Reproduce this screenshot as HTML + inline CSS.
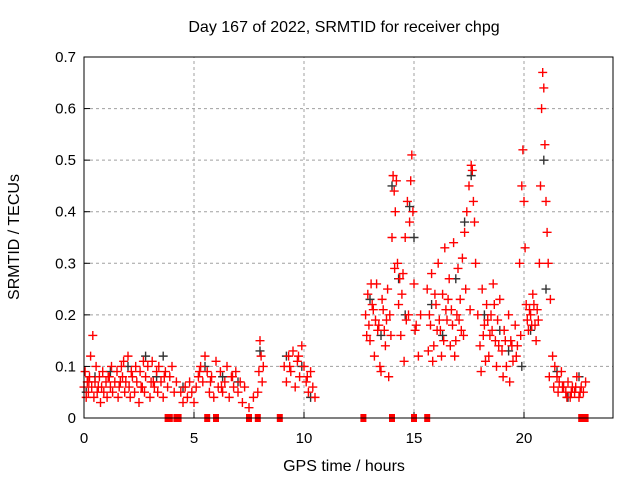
<!DOCTYPE html>
<html><head><meta charset="utf-8"><style>
body{margin:0;background:#fff;width:640px;height:480px;overflow:hidden}
svg text{font-family:"Liberation Sans",sans-serif;font-size:15px;fill:#000}
</style></head><body>
<svg id="chart" width="640" height="480" viewBox="0 0 640 480" xmlns="http://www.w3.org/2000/svg">
<rect width="640" height="480" fill="#fff"/>
<text x="344" y="32" text-anchor="middle" style="font-size:16px">Day 167 of 2022, SRMTID for receiver chpg</text>
<text x="344" y="471" text-anchor="middle" style="font-size:16px">GPS time / hours</text>
<text transform="translate(19,237) rotate(-90)" text-anchor="middle" style="font-size:16px">SRMTID / TECUs</text>
<g id="grid"></g>
<g id="ticks"></g>
<g id="black"></g>
<g id="red"></g>
<g id="zeros"></g>
<rect x="84" y="57" width="529" height="361" fill="none" stroke="#000" stroke-width="1"/>
</svg>
<script>
const xTicks=[0,5,10,15,20];
const yTicks=[0,0.1,0.2,0.3,0.4,0.5,0.6,0.7];
const yTickLabels=["0","0.1","0.2","0.3","0.4","0.5","0.6","0.7"];
const redT=[0,.05,.1,.15,.2,.25,.3,.35,.4,.45,.5,.55,.6,.7,.75,.8,.85,.9,1,1.05,1.1,1.2,1.25,1.3,1.4,1.5,1.55,1.6,1.7,1.75,1.8,1.85,1.9,2,2.05,2.1,2.2,2.3,2.35,2.4,2.5,2.55,2.6,2.7,2.75,2.8,2.9,3,3.05,3.1,3.2,3.3,3.35,3.4,3.5,3.6,3.7,3.8,3.9,4,4.1,4.2,4.4,4.5,4.6,4.7,4.8,4.9,5,5.1,5.2,5.3,5.4,5.5,5.6,5.7,5.8,5.9,6,6.1,6.2,6.3,6.4,6.5,6.6,6.7,6.8,6.9,7,7.1,7.2,7.3,7.5,7.7,7.9,7.95,8,8.05,8.1,8.15,9.1,9.2,9.3,9.4,9.5,9.6,9.7,9.8,9.9,10,10.1,10.2,10.3,10.4,10.5,
12.8,12.85,12.9,13,13.05,13.1,13.2,13.25,13.3,13.4,13.45,13.5,13.6,13.65,13.7,13.8,13.85,13.9,14,14.05,14.1,14.15,14.2,14.25,14.3,14.35,14.4,14.5,14.55,14.6,14.65,14.7,14.8,14.85,14.9,14.95,15,15.1,15.2,15.3,
15.6,15.65,15.7,15.8,15.85,15.9,16,16.05,16.1,16.2,16.25,16.3,16.4,16.45,16.5,16.6,16.65,16.7,16.8,16.85,16.9,17,17.05,17.1,17.2,17.25,17.3,17.4,17.5,17.6,17.65,17.7,17.8,17.9,18,18.05,18.1,18.2,18.25,18.3,18.4,18.45,18.5,18.6,18.7,18.75,18.8,18.9,19,19.05,19.1,19.2,19.3,19.35,19.4,19.5,19.6,19.7,19.8,19.9,19.95,20,20.05,20.1,20.2,20.25,20.3,20.4,20.5,20.55,20.6,20.7,20.75,20.8,20.85,20.9,20.95,21,21.05,21.1,21.2,21.3,21.4,21.5,21.6,21.7,21.8,21.9,22,22.1,22.2,22.3,22.4,22.5,22.6,22.7,22.8,
12.95,13.15,13.35,13.55,13.75,13.95,14.12,14.45,14.75,15.05,15.75,15.95,16.15,16.35,16.55,16.75,16.95,17.15,17.35,17.55,17.75,18.15,18.35,18.55,18.65,18.85,19.15,19.45,19.65,19.85,20.15,20.35,20.45,20.65,21.15,21.35,21.55,21.75,21.95,22.15,22.35,22.55,
0.22,0.65,1.15,1.65,2.15,2.65,3.15,3.65,5.25,5.75,6.25,6.75,9.35,9.75,10.15];
const redV=[.06,.09,.04,.07,.05,.08,.12,.06,.16,.04,.07,.1,.05,.08,.03,.06,.09,.05,.07,.04,.08,.06,.1,.05,.07,.09,.04,.06,.1,.08,.11,.05,.07,.12,.06,.04,.08,.05,.1,.07,.03,.09,.06,.11,.05,.08,.1,.04,.07,.11,.06,.09,.05,.1,.07,.04,.09,.06,.08,.1,.05,.07,.05,.03,.06,.04,.07,.05,.03,.06,.08,.1,.07,.12,.09,.05,.08,.04,.11,.06,.09,.05,.07,.1,.04,.08,.06,.09,.05,.07,.03,.06,.02,.04,.05,.09,.15,.12,.07,.1,.1,.07,.12,.09,.13,.06,.11,.08,.14,.1,.07,.05,.09,.06,.04,
.2,.16,.24,.15,.26,.22,.12,.19,.26,.18,.1,.09,.21,.17,.14,.25,.08,.2,.35,.47,.44,.4,.46,.3,.22,.27,.16,.28,.11,.35,.19,.42,.38,.46,.51,.4,.26,.18,.12,.2,
.25,.13,.2,.28,.11,.14,.22,.17,.3,.17,.12,.24,.33,.21,.19,.27,.14,.21,.34,.12,.15,.29,.19,.23,.31,.16,.36,.4,.45,.49,.48,.42,.3,.2,.14,.09,.25,.18,.11,.22,.12,.16,.2,.26,.15,.1,.19,.23,.13,.08,.17,.1,.2,.07,.15,.11,.18,.14,.3,.45,.52,.42,.33,.22,.17,.21,.2,.24,.18,.15,.21,.3,.45,.6,.67,.64,.53,.42,.36,.3,.23,.12,.1,.08,.07,.09,.06,.05,.07,.04,.06,.05,.08,.04,.06,.05,.07,
.18,.21,.17,.23,.19,.16,.29,.24,.2,.17,.18,.24,.19,.15,.23,.18,.2,.17,.25,.21,.38,.16,.19,.17,.22,.14,.15,.14,.12,.16,.19,.18,.22,.19,.08,.06,.05,.06,.04,.05,.06,.05,
.07,.06,.08,.07,.09,.06,.07,.08,.09,.07,.06,.08,.1,.12,.08];
const blackT=[.1,.5,1.2,2,2.8,3.3,3.6,4.5,5.5,6.3,7,8,9.2,9.9,10.3,13,13.5,14,14.3,14.6,14.8,15,15.8,16.3,16.9,17.3,17.6,18.2,18.9,19.3,19.9,20.3,20.9,21,21.5,22,22.5];
const blackV=[.05,.08,.09,.1,.12,.08,.12,.06,.1,.08,.07,.13,.12,.1,.04,.23,.16,.45,.27,.2,.41,.35,.22,.16,.27,.38,.47,.2,.17,.13,.1,.17,.5,.25,.09,.04,.08];
const zeroT=[3.8,3.9,4.2,4.3,5.6,6,7.5,7.9,8.9,12.7,14,15,15.6,22.6,22.8];

const X0=84,X1=612,Y0=418,Y1=57;
const xs=t=>X0+(X1-X0)*t/24;
const ys=v=>Y0+(Y1-Y0)*v/0.7;
const NS="http://www.w3.org/2000/svg";
function mk(tag,attrs,parent){const e=document.createElementNS(NS,tag);for(const k in attrs)e.setAttribute(k,attrs[k]);parent.appendChild(e);return e;}
const grid=document.getElementById('grid'),ticks=document.getElementById('ticks');
xTicks.forEach(t=>{const x=xs(t);
 if(t>0){const g=mk('line',{x1:x,y1:Y0,x2:x,y2:Y1,stroke:'#a0a0a0','stroke-dasharray':'3,3'},grid);
 
 }
 mk('line',{x1:x,y1:Y0,x2:x,y2:Y0-6,stroke:'#000'},ticks);
 const l=mk('text',{x:x,y:443,'text-anchor':'middle'},ticks);l.textContent=t;
 
 });
yTicks.forEach((v,i)=>{const y=ys(v);
 if(v>0&&v<0.7){const g=mk('line',{x1:X0,y1:y,x2:613,y2:y,stroke:'#a0a0a0','stroke-dasharray':'3,3'},grid);
 
 }
 mk('line',{x1:X0,y1:y,x2:X0+6,y2:y,stroke:'#000'},ticks);
 const l=mk('text',{x:76,y:y+5,'text-anchor':'end'},ticks);l.textContent=yTickLabels[i];
 
 });
function plus(g,t,v,c){const x=xs(t),y=ys(v);
 const p=mk('path',{d:`M${x-4.5},${y}H${x+4.5}M${x},${y-4.5}V${y+4.5}`,stroke:c,'stroke-width':1.4,fill:'none'},g);
 
 }
const bg=document.getElementById('black'),rg=document.getElementById('red'),zg=document.getElementById('zeros');
blackT.forEach((t,i)=>plus(bg,t,blackV[i],'#333'));
redT.forEach((t,i)=>plus(rg,t,redV[i],'#f00'));
zeroT.forEach(t=>{const r=mk('rect',{x:xs(t)-3,y:Y0-4,width:6,height:8,fill:'#f00'},zg);
 
 });
</script>
</body></html>
